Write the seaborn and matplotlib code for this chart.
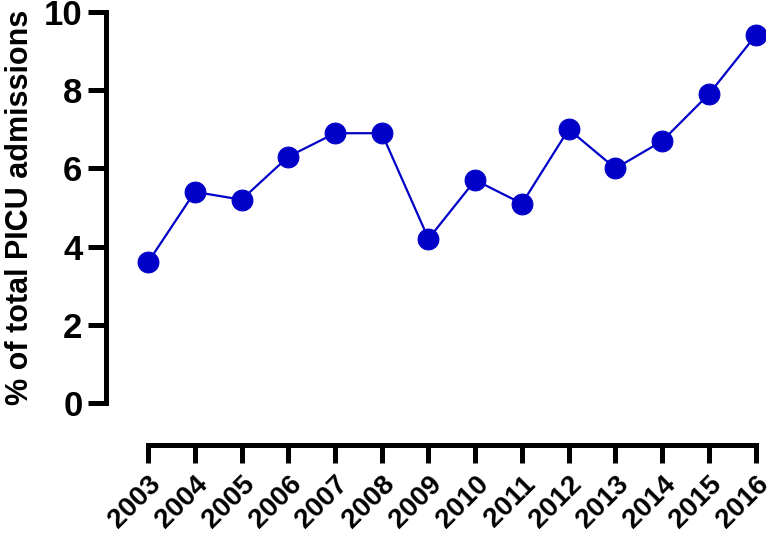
import matplotlib
matplotlib.use("Agg")
import matplotlib.pyplot as plt
import seaborn as sns
import pandas as pd

years = [2003, 2004, 2005, 2006, 2007, 2008, 2009, 2010, 2011, 2012, 2013, 2014, 2015, 2016]
pct = [3.6, 5.4, 5.2, 6.3, 6.9, 6.9, 4.2, 5.7, 5.1, 7.0, 6.0, 6.7, 7.9, 9.4]
y_ticks = [0, 2, 4, 6, 8, 10]
y_label = "% of total PICU admissions"

sns.set_style("ticks")
plt.rcParams["font.family"] = ["Liberation Sans", "DejaVu Sans"]
plt.rcParams["font.weight"] = "bold"
for k in ["text.color", "axes.labelcolor", "xtick.color", "ytick.color", "axes.edgecolor"]:
    plt.rcParams[k] = "black"

df = pd.DataFrame({"year": years, "pct": pct})

fig = plt.figure(figsize=(7.68, 5.43), dpi=100)
ax = fig.add_axes([106 / 768, 1 - 403 / 543, (765 - 106) / 768, (403 - 12) / 543])

for s in ["top", "right"]:
    ax.spines[s].set_visible(False)
ax.spines["bottom"].set_position(("outward", 30))

color = "#0000C8"
sns.lineplot(data=df, x="year", y="pct", ax=ax, color=color, linewidth=1.6,
             marker="o", markersize=15, markeredgecolor=color, markerfacecolor=color)

ax.set_xlim(2002.1, 2016.2)
ax.set_ylim(0, 10)
ax.set_yticks(y_ticks)
ax.set_xticks(years)
ax.set_xticklabels([str(y) for y in years], rotation=45, ha="right",
                   rotation_mode="anchor", fontsize=20, fontweight="bold")
ax.set_yticklabels([str(t) for t in y_ticks], fontsize=25, fontweight="bold")
ax.set_xlabel("")
ax.set_ylabel(y_label, fontsize=22, fontweight="bold", labelpad=6)

ax.spines["left"].set_linewidth(3.6)
ax.spines["bottom"].set_linewidth(3.6)
ax.spines["left"].set_bounds(0, 10)
ax.spines["bottom"].set_bounds(2003, 2016)
ax.spines["left"].set_capstyle("projecting")
ax.spines["bottom"].set_capstyle("projecting")
ax.tick_params(axis="both", width=3.6, length=13, color="black", direction="out")
ax.tick_params(axis="y", pad=4)
ax.tick_params(axis="x", pad=6)

fig.savefig("out.png", dpi=100)
